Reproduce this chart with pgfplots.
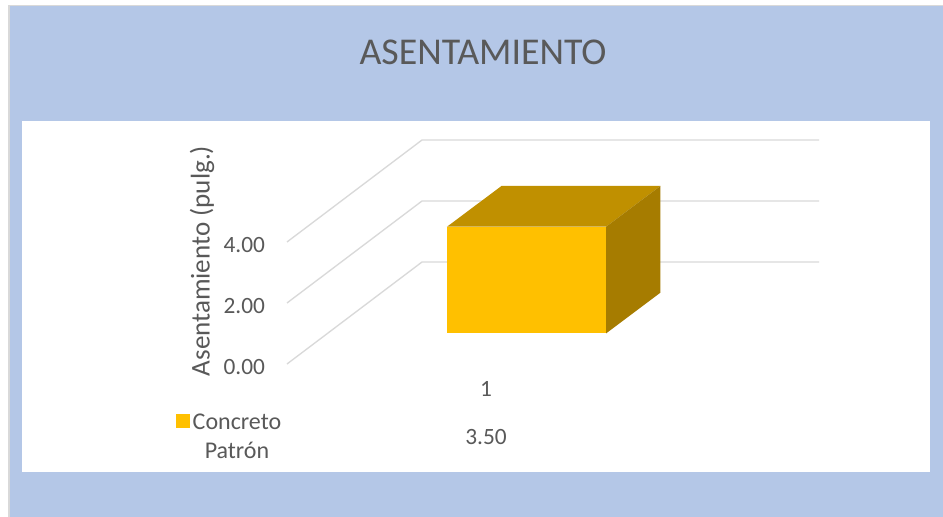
\documentclass[border=0pt]{standalone}
\usepackage{fontspec}
\setmainfont{Carlito}
\usepackage{pgfplots}
\pgfplotsset{compat=1.18}
\definecolor{panelblue}{HTML}{B4C7E7}
\definecolor{inktext}{HTML}{595959}
\definecolor{gridgrey}{HTML}{D9D9D9}
\definecolor{barfront}{HTML}{FFC000}
\definecolor{bartop}{HTML}{C09000}
\definecolor{barside}{HTML}{A67C00}
\begin{document}
\begin{tikzpicture}[x=1pt,y=1pt]
% chart panel: outer rule, blue ground and white plot region
\fill[white] (-215.25,-114.75) rectangle (492,273);
\fill[gridgrey] (-209.25,-114.75) rectangle (492,269.25);
\fill[panelblue] (-208.1,-114.75) rectangle (492,268.5);
\fill[white] (-198.75,-81) rectangle (482.25,182.25);
\begin{axis}[
  at={(0pt,0pt)}, anchor=south west,
  scale only axis,
  width=399pt, height=168pt,
  xmin=287, xmax=819, ymin=-1, ymax=6.344,
  clip=false,
  axis line style={draw=none},
  major tick length=0pt,
  xtick={486}, xticklabels={1},
  ytick={-1,1,3}, yticklabels={0.00,2.00,4.00},
  tick label style={font=\fontsize{17.5}{19}\selectfont, text=inktext},
  yticklabel style={xshift=-13pt, yshift=-2pt},
  xticklabel style={yshift=-9.7pt},
  ylabel={Asentamiento (pulg.)},
  every axis y label/.style={at={(axis cs:202,2.377)}, rotate=90, anchor=center,
    font=\fontsize{20.3}{22}\selectfont, text=inktext},
  legend style={at={(axis cs:230,-2.53)}, anchor=north, draw=none, fill=none,
    font=\fontsize{18}{21.75}\selectfont, text=inktext,
    cells={align=center}, inner sep=0pt, column sep=0pt},
  legend image code/.code={\fill[barfront] (-6.4pt,7pt) rectangle (4.1pt,17.5pt);},
]
% gridlines along the side and back walls
\addplot[gridgrey, line width=1pt, forget plot] coordinates {(287,-1) (422,2.344) (819,2.344)};
\addplot[gridgrey, line width=1pt, forget plot] coordinates {(287,1) (422,4.344) (819,4.344)};
\addplot[gridgrey, line width=1pt, forget plot] coordinates {(287,3) (422,6.344) (819,6.344)};

% the single column: front face, then top and side faces
\addplot[ybar, bar width=119.25pt, bar shift=0pt, fill=barfront, draw=none] coordinates {(526.5,3.5)};
\addlegendentry{Concreto\\[0pt]Patrón}
\addplot[fill=bartop, draw=none, forget plot] coordinates {(447,3.5) (606,3.5) (660.3,4.836) (501.5,4.836)} --cycle;
\addplot[fill=barside, draw=none, forget plot] coordinates {(606,0) (606,3.5) (660.3,4.836) (660.3,1.336)} --cycle;

% data table row and title
\node[text=inktext, font=\fontsize{17.5}{19}\selectfont] at (axis cs:486,-3.39) {3.50};
\node[text=inktext, font=\fontsize{28.4}{30}\selectfont] at (axis cs:483,9.23) {ASENTAMIENTO};
\end{axis}
\end{tikzpicture}
\end{document}
